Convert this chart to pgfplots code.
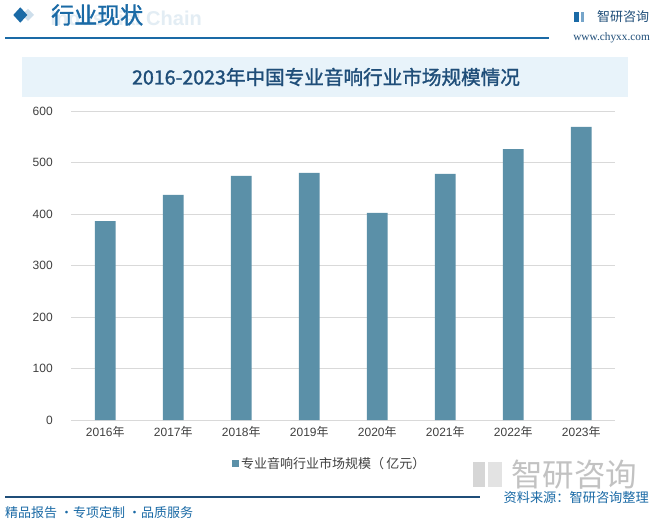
\documentclass[border=0pt]{standalone}
\usepackage{pgfplots}
\pgfplotsset{compat=1.18}
\usepackage{fontspec}
\setmainfont{Liberation Sans}
\newfontfamily\cjk{Noto Sans CJK SC}
\newfontfamily\cjkb{Noto Sans CJK SC}[FakeBold=1.5]
\newfontfamily\serifw{Liberation Serif}
\definecolor{barc}{HTML}{5B90A8}
\definecolor{hblue}{HTML}{1A6AA6}
\definecolor{ttl}{HTML}{1F4E79}
\definecolor{band}{HTML}{E8F3FA}
\definecolor{txt}{HTML}{404040}
\definecolor{gridc}{HTML}{D9D9D9}
\begin{document}
\begin{tikzpicture}[x=1pt,y=1pt]
\useasboundingbox (0,0) rectangle (658,525);
\fill[white] (0,0) rectangle (658,525);
% header
\node[anchor=east,font=\bfseries\fontsize{20}{20}\selectfont,text=hblue!12,inner sep=0] at (202,507) {Industrial Chain};
\fill[hblue!22] (28,516) -- (34,510) -- (28,504) -- (22,510) -- cycle;
\fill[hblue] (20.3,517.7) -- (27.3,510) -- (20.3,502.3) -- (13.3,510) -- cycle;
\node[anchor=west,font=\cjkb\fontsize{23}{23}\selectfont,text=hblue,inner sep=0] at (51,510) {行业现状};
\draw[hblue,line width=1.2pt] (5,487) -- (549,487);
\fill[hblue] (574,503) rectangle (579,513);
\fill[hblue!60] (580.5,503) rectangle (584,513);
\node[anchor=west,font=\cjk\fontsize{13}{13}\selectfont,text=ttl,inner sep=0] at (597,508) {智研咨询};
\node[anchor=east,font=\serifw\fontsize{11.3}{11.3}\selectfont,text=ttl,inner sep=0] at (650,487) {www.chyxx.com};
% title band
\fill[band] (22,428) rectangle (628,468);
\node[font=\cjkb\fontsize{19.6}{19.6}\selectfont,text=ttl] at (326,448) {2016-2023年中国专业音响行业市场规模情况};
% watermark bottom right
\node[anchor=west,font=\cjk\fontsize{31.5}{31.5}\selectfont,text=black!24,inner sep=0] at (511,50) {智研咨询};
\fill[black!16] (473,38) rectangle (485,63);
\fill[black!11] (488,38) rectangle (502,63);
% footer
\draw[ttl,line width=1.2pt] (5,28) -- (480,28);
\node[anchor=west,font=\cjk\fontsize{13}{13}\selectfont,text=hblue,inner sep=0] at (5,12) {精品报告 ·专项定制 ·品质服务};
\node[anchor=east,font=\cjk\fontsize{13.2}{13.2}\selectfont,text=hblue,inner sep=0] at (649,27) {资料来源：智研咨询整理};
\begin{axis}[
  at={(71.3pt,105pt)}, anchor=south west,
  scale only axis, width=544pt, height=309pt,
  xmin=-0.5, xmax=7.5, ymin=0, ymax=600,
  ytick={0,100,200,300,400,500,600},
  xtick=data,
  xticklabels={2016{\cjk 年},2017{\cjk 年},2018{\cjk 年},2019{\cjk 年},2020{\cjk 年},2021{\cjk 年},2022{\cjk 年},2023{\cjk 年}},
  axis line style={draw=none},
  axis x line*=bottom,
  x axis line style={draw=gridc},
  ymajorgrids, grid style={gridc, line width=0.8pt},
  major tick length=0pt,
  tick label style={font=\fontsize{12}{12}\selectfont, text=txt},
  /pgf/number format/assume math mode=true,
  yticklabel style={xshift=-15pt},
  xticklabel style={yshift=-3pt},
  legend style={at={(0.475,-0.14)}, anchor=center, draw=none, fill=none,
     font=\cjk\fontsize{13}{13}\selectfont, text=txt},
  legend image code/.code={\fill[barc] (0pt,-3.5pt) rectangle (7pt,3.5pt);},
  clip=false,
]
\addplot[ybar, bar width=20.7pt, fill=barc, draw=none] coordinates {
 (0,386) (1,437) (2,474) (3,480) (4,402) (5,478) (6,526) (7,569)};
\addlegendentry{专业音响行业市场规模（\,亿元）}
\end{axis}
\end{tikzpicture}
\end{document}
